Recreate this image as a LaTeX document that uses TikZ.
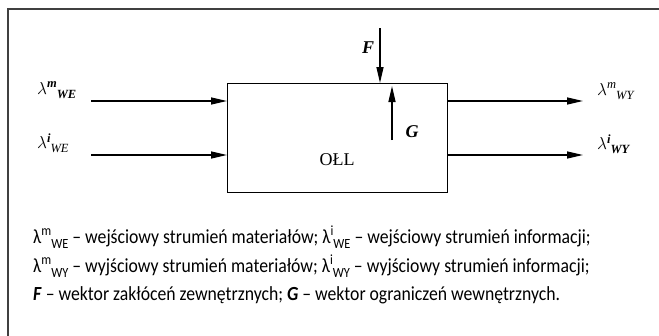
\documentclass[tikz,border=0pt]{standalone}
\usepackage{fontspec}
\setmainfont{Liberation Serif}
\newfontfamily\legfont[FakeStretch=0.885]{Carlito}
\usetikzlibrary{arrows.meta}
\newcommand\lamlab[2]{$\lambda$\raisebox{0.8ex}{\fontsize{12.5}{12.5}\selectfont #1}\raisebox{-0.45ex}{\fontsize{12.5}{12.5}\selectfont #2}}
\newcommand\leglam[2]{λ\raisebox{0.75ex}{\fontsize{14}{14}\selectfont #1}\raisebox{-0.6ex}{\fontsize{14}{14}\selectfont #2}}
\begin{document}
\begin{tikzpicture}[x=1pt,y=-1pt,
  arr/.style={line width=1.4pt,-{Triangle[length=16pt,width=7pt]}},
  lab/.style={font=\fontsize{18}{18}\selectfont, inner sep=0pt},
  leg/.style={font=\legfont\fontsize{20}{20}\selectfont, inner sep=0pt, anchor=base west}]
\useasboundingbox (0,0) rectangle (659,335);
\draw[black!75, line width=1.2pt] (8,336) -- (8,9) -- (660,9);
\node[draw, line width=1.4pt, minimum width=220pt, minimum height=109pt, anchor=north west, inner sep=0pt] (box) at (227,83) {};
\node[lab] (oll) at (337,160) {OŁL};
% inputs
\coordinate (inm) at (91,101);
\coordinate (ini) at (91,155);
\draw[arr] (inm) -- (inm -| box.west);
\draw[arr] (ini) -- (ini -| box.west);
% outputs
\coordinate (outm) at (583,101);
\coordinate (outi) at (583,155);
\draw[arr] (outm -| box.east) -- (outm);
\draw[arr] (outi -| box.east) -- (outi);
% F and G
\coordinate (ftop) at (380,28);
\draw[arr] (ftop) -- (ftop |- box.north);
\coordinate (gbot) at (392,140);
\coordinate (gtip) at (392,86);
\draw[arr] (gbot) -- (gtip);
\node[lab] (flab) at (368,48) {\textbf{\textit{F}}};
\node[lab] (glab) at (412,132) {\textbf{\textit{G}}};
% labels
\node[lab, anchor=west] (lwem) at (37,90) {\lamlab{\textbf{\textit{m}}}{\textbf{\textit{WE}}}};
\node[lab, anchor=west] (lwei) at (37,143) {\lamlab{\textbf{\textit{i}}}{\textit{WE}}};
\node[lab, anchor=west] (lwym) at (597,91) {\lamlab{\textit{m}}{\textit{WY}}};
\node[lab, anchor=west] (lwyi) at (597,144) {\lamlab{\textbf{\textit{i}}}{\textbf{\textit{WY}}}};
% legend
\node[leg] (leg1) at (33,243) {\leglam{m}{WE} – wejściowy strumień materiałów; \leglam{i}{WE} – wejściowy strumień informacji;};
\node[leg] (leg2) at (33,272) {\leglam{m}{WY} – wyjściowy strumień materiałów; \leglam{i}{WY} – wyjściowy strumień informacji;};
\node[leg] (leg3) at (33,300) {\textbf{\textit{F}} – wektor zakłóceń zewnętrznych; \textbf{\textit{G}} – wektor ograniczeń wewnętrznych.};
\end{tikzpicture}
\end{document}
